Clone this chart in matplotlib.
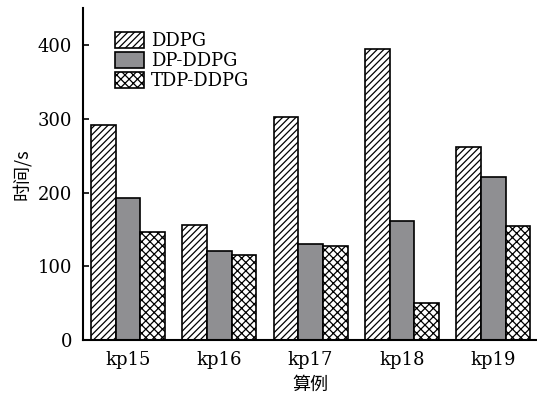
import numpy as np
import matplotlib.pyplot as plt

plt.rcParams['font.family'] = ['DejaVu Serif', 'Noto Sans CJK SC']
plt.rcParams['hatch.linewidth'] = 0.9

cases = ['kp15', 'kp16', 'kp17', 'kp18', 'kp19']
ddpg = [291, 156, 302, 395, 261]
dp_ddpg = [192, 121, 130, 161, 221]
tdp_ddpg = [147, 116, 127, 50, 154]

fig = plt.figure(figsize=(5.37, 3.96), dpi=100)
ax = fig.add_axes([0.155, 0.141, 0.845, 0.839])

x = np.arange(len(cases))
w = 0.27
ax.bar(x - w, ddpg, w, color='white', edgecolor='black', hatch='/////', linewidth=1.2, label='DDPG')
ax.bar(x, dp_ddpg, w, color='#8f8f92', edgecolor='black', linewidth=1.2, label='DP-DDPG')
ax.bar(x + w, tdp_ddpg, w, color='white', edgecolor='black', hatch='xxxx', linewidth=1.2, label='TDP-DDPG')

ax.set_xlim(-0.49, 4.48)
ax.set_ylim(0, 450)
ax.set_xticks(x)
ax.set_xticklabels(cases)
ax.set_yticks([0, 100, 200, 300, 400])
ax.tick_params(axis='y', direction='in', length=4, width=1.2, labelsize=13, pad=8)
ax.tick_params(axis='x', length=0, labelsize=13, pad=8)
for s in ['top', 'right']:
    ax.spines[s].set_visible(False)
for s in ['left', 'bottom']:
    ax.spines[s].set_linewidth(1.5)

ax.set_ylabel('时间/s', fontsize=13, family='Noto Sans CJK SC', labelpad=5)
ax.set_xlabel('算例', fontsize=13, family='Noto Sans CJK SC', labelpad=5)

ax.legend(loc='upper left', bbox_to_anchor=(0.055, 0.95), frameon=False, fontsize=13,
          handlelength=1.6, handleheight=1.0, handletextpad=0.35, labelspacing=0.1,
          borderaxespad=0.0)

fig.savefig('out.png', dpi=100)
